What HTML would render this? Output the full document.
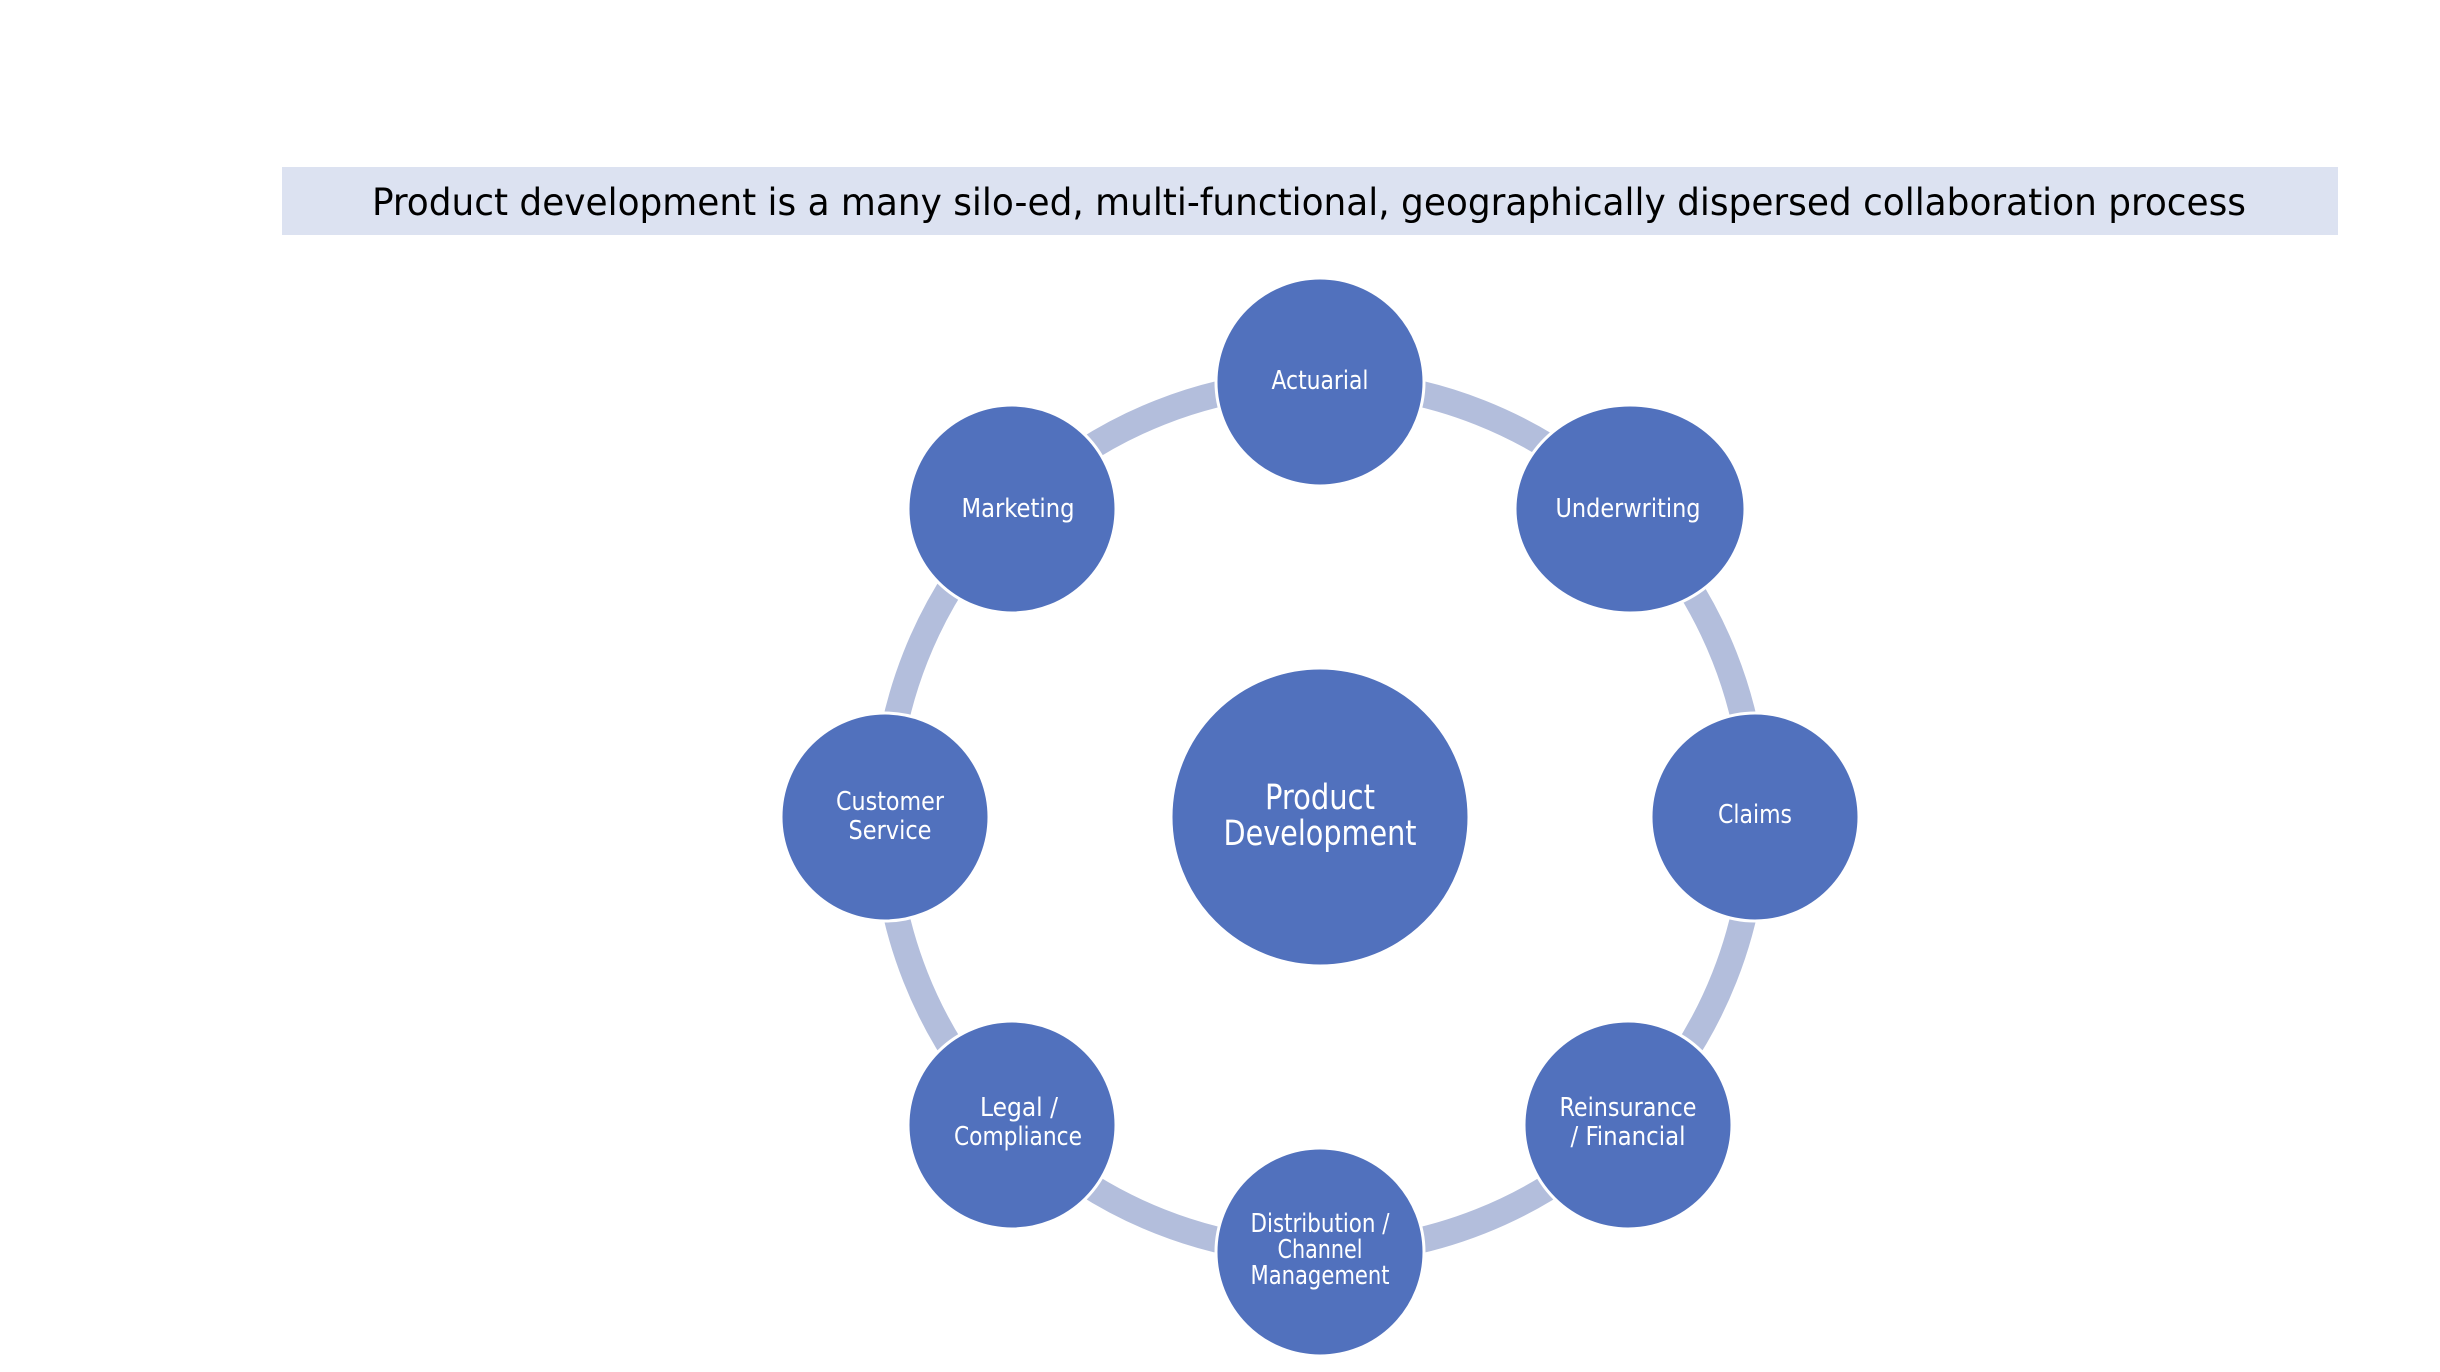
<!DOCTYPE html>
<html><head><meta charset="utf-8"><style>
html,body{margin:0;padding:0;background:#fff;}
svg{display:block;}
text{font-family:"DejaVu Sans Condensed","DejaVu Sans","Liberation Sans",sans-serif;fill:#fff;text-anchor:middle;}
</style></head><body>
<svg width="2440" height="1372" viewBox="0 0 2440 1372" xmlns="http://www.w3.org/2000/svg">
<rect x="282" y="167" width="2056" height="68" fill="#dce2f1"/>
<text x="1309" y="215" style="fill:#000;font-size:37px" textLength="1874" lengthAdjust="spacingAndGlyphs">Product development is a many silo-ed, multi-functional, geographically dispersed collaboration process</text>
<circle cx="1320" cy="817" r="435" fill="none" stroke="#b3bedc" stroke-width="26"/>
<g fill="#5171bd" stroke="#fff" stroke-width="3">
<circle cx="1320" cy="817" r="149"/>
<circle cx="1320" cy="382" r="104"/>
<ellipse cx="1630" cy="509" rx="115" ry="104"/>
<circle cx="1755" cy="817" r="104"/>
<circle cx="1628" cy="1125" r="104"/>
<circle cx="1320" cy="1252" r="104"/>
<circle cx="1012" cy="1125" r="104"/>
<circle cx="885" cy="817" r="104"/>
<circle cx="1012" cy="509" r="104"/>
</g>
<g style="font-size:35px">
<text x="1320" y="809" textLength="110" lengthAdjust="spacingAndGlyphs">Product</text>
<text x="1320" y="845" textLength="193" lengthAdjust="spacingAndGlyphs">Development</text>
</g>
<g style="font-size:26px">
<text x="1320" y="389" textLength="97" lengthAdjust="spacingAndGlyphs">Actuarial</text>
<text x="1628" y="517" textLength="145" lengthAdjust="spacingAndGlyphs">Underwriting</text>
<text x="1755" y="823" textLength="74" lengthAdjust="spacingAndGlyphs">Claims</text>
<text x="1628" y="1116" textLength="137" lengthAdjust="spacingAndGlyphs">Reinsurance</text>
<text x="1628" y="1145" textLength="115" lengthAdjust="spacingAndGlyphs">/ Financial</text>
<text x="1320" y="1232" textLength="139" lengthAdjust="spacingAndGlyphs">Distribution /</text>
<text x="1320" y="1258" textLength="85" lengthAdjust="spacingAndGlyphs">Channel</text>
<text x="1320" y="1284" textLength="139" lengthAdjust="spacingAndGlyphs">Management</text>
<text x="1019" y="1116" textLength="78" lengthAdjust="spacingAndGlyphs">Legal /</text>
<text x="1018" y="1145" textLength="128" lengthAdjust="spacingAndGlyphs">Compliance</text>
<text x="890" y="810" textLength="108" lengthAdjust="spacingAndGlyphs">Customer</text>
<text x="890" y="839" textLength="83" lengthAdjust="spacingAndGlyphs">Service</text>
<text x="1018" y="517" textLength="113" lengthAdjust="spacingAndGlyphs">Marketing</text>
</g>
</svg>
</body></html>
